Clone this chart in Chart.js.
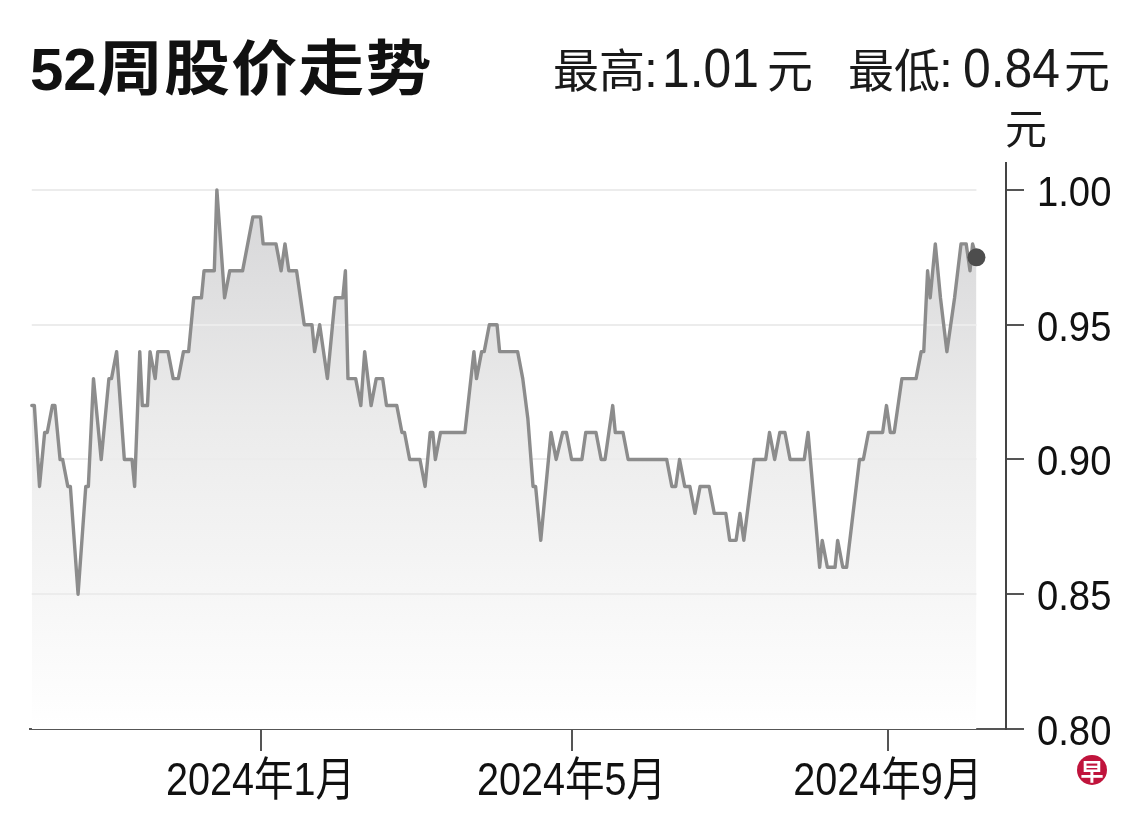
<!DOCTYPE html>
<html>
<head>
<meta charset="utf-8">
<script src="https://cdn.jsdelivr.net/npm/chart.js@4.4.1/dist/chart.umd.min.js"></script>
<style>
  html, body { margin: 0; padding: 0; background: #ffffff; }
  #wrap { position: relative; width: 1140px; height: 818px; overflow: hidden; background: #fff; }
  #chartBox { position: absolute; left: 0; top: 0; width: 1140px; height: 818px; }
  .title { position: absolute; left: 30px; top: 34px; line-height: 60px; white-space: nowrap;
           font-family: "Liberation Sans", "Noto Sans CJK SC", sans-serif; font-weight: bold; font-size: 60px; color: #111; }
  .title .cjk { font-family: "Noto Sans CJK SC", sans-serif; letter-spacing: 1px; display: inline-block;
                transform: scaleX(1.1); transform-origin: 0 50%; }
  #hdr { position: absolute; left: 0; top: 0; pointer-events: none; }
  #hdr .cjk { font-family: "Noto Sans CJK SC", sans-serif; font-size: 46px; fill: #1a1a1a; }
  #hdr .num { font-family: "Liberation Sans", sans-serif; font-size: 56px; fill: #1a1a1a; }
  #hdr .colon { font-family: "Liberation Sans", sans-serif; font-size: 50px; fill: #1a1a1a; }
  #hdr .unit { font-family: "Noto Sans CJK SC", sans-serif; font-size: 42px; fill: #1a1a1a; }
  .logo { position: absolute; left: 1077px; top: 755px; width: 30px; height: 30px; border-radius: 50%;
          background: #c0143c; color: #fff; font-family: "Noto Sans CJK SC", sans-serif; font-weight: bold;
          font-size: 23px; line-height: 30px; text-align: center; }
</style>
</head>
<body>
<div id="wrap">
  <div id="chartBox"><canvas id="c"></canvas></div>
  <div class="title">52<span class="cjk">周股价走势</span></div>
  <svg id="hdr" width="1140" height="818" xmlns="http://www.w3.org/2000/svg">
    <text class="cjk" x="553" y="87">最高</text>
    <text class="colon" x="651" y="87" text-anchor="middle">:</text>
    <text class="num" x="662" y="87" textLength="97" lengthAdjust="spacingAndGlyphs">1.01</text>
    <text class="cjk" x="767" y="87">元</text>
    <text class="cjk" x="848" y="87">最低</text>
    <text class="colon" x="946" y="87" text-anchor="middle">:</text>
    <text class="num" x="963" y="87" textLength="97" lengthAdjust="spacingAndGlyphs">0.84</text>
    <text class="cjk" x="1064" y="87">元</text>
    <text class="unit" x="1005" y="144">元</text>
  </svg>
  <div class="logo">早</div>
</div>
<script>
// Days counted from 2024-01-01 (negative = late 2023)
const dayOffsets = [
  -89, -88, -86, -84, -83, -81, -80, -78, -77, -75,
  -74, -71, -68, -67, -65, -62, -59, -58, -56, -53,
  -50, -49, -47, -46, -44, -43, -41, -40, -36, -34,
  -32, -30, -28, -26, -23, -22, -18, -17, -14, -12,
  -7, -3, 0, 1, 6, 8, 9.5, 11, 14, 17,
  20, 21, 23, 26, 29, 32, 33, 34, 37, 39,
  40.5, 43, 45, 47.5, 49, 53, 55, 56, 58, 62,
  64, 66, 67, 68, 70, 79.5, 83, 84, 86, 87,
  89, 92, 93, 100, 102, 104, 106, 107, 109, 113,
  115, 117.5, 119, 121, 125, 126.5, 130.5, 132.5, 134, 137,
  138, 141, 143, 158, 160, 161.5, 163, 165, 167, 169,
  171, 174.5, 176.5, 181, 182.5, 185, 186.5, 188, 192, 196.5,
  198, 200, 202, 204, 206, 211.5, 213, 217.5, 218.5, 220.5,
  223.5, 224.5, 226.5, 228, 233, 234.5, 236.5, 242, 243.5, 245,
  246.5, 249.5, 255, 257, 258, 259.5, 260.5, 262.5, 264.5, 267,
  270, 272.5, 274.5, 276, 277, 278.5
];
const prices = [
  0.92, 0.92, 0.89, 0.91, 0.91, 0.92, 0.92, 0.90, 0.90, 0.89,
  0.89, 0.85, 0.89, 0.89, 0.93, 0.90, 0.93, 0.93, 0.94, 0.90,
  0.90, 0.89, 0.94, 0.92, 0.92, 0.94, 0.93, 0.94, 0.94, 0.93,
  0.93, 0.94, 0.94, 0.96, 0.96, 0.97, 0.97, 1.00, 0.96, 0.97,
  0.97, 0.99, 0.99, 0.98, 0.98, 0.97, 0.98, 0.97, 0.97, 0.95,
  0.95, 0.94, 0.95, 0.93, 0.96, 0.96, 0.97, 0.93, 0.93, 0.92,
  0.94, 0.92, 0.93, 0.93, 0.92, 0.92, 0.91, 0.91, 0.90, 0.90,
  0.89, 0.91, 0.91, 0.90, 0.91, 0.91, 0.94, 0.93, 0.94, 0.94,
  0.95, 0.95, 0.94, 0.94, 0.93, 0.915, 0.89, 0.89, 0.87, 0.91,
  0.90, 0.91, 0.91, 0.90, 0.90, 0.91, 0.91, 0.90, 0.90, 0.92,
  0.91, 0.91, 0.90, 0.90, 0.89, 0.89, 0.90, 0.89, 0.89, 0.88,
  0.89, 0.89, 0.88, 0.88, 0.87, 0.87, 0.88, 0.87, 0.90, 0.90,
  0.91, 0.90, 0.91, 0.91, 0.90, 0.90, 0.91, 0.86, 0.87, 0.86,
  0.86, 0.87, 0.86, 0.86, 0.90, 0.90, 0.91, 0.91, 0.92, 0.91,
  0.91, 0.93, 0.93, 0.94, 0.94, 0.97, 0.96, 0.98, 0.96, 0.94,
  0.96, 0.98, 0.98, 0.97, 0.98, 0.975
];
// Month ticks (days from 2024-01-01) and their labels
const xTickDays = [0, 121, 244];
const xTickLabels = ['2024年1月', '2024年5月', '2024年9月'];
const yTickValues = [0.80, 0.85, 0.90, 0.95, 1.00];
const yTickLabels = ['0.80', '0.85', '0.90', '0.95', '1.00'];
const xRange = [-89.7, 290.0];
const yRange = [0.80, 1.01];

const points = dayOffsets.map((d, i) => ({ x: d, y: prices[i] }));

const labelFont = '"Liberation Sans", "Noto Sans CJK SC", sans-serif';

// light horizontal guide lines spanning only the data range, drawn over the fill but under the line
const gridPlugin = {
  id: 'rangeGrid',
  afterDatasetDraw(chart, args) {
    if (args.index !== 0) return;
    const xs = chart.scales.x, ys = chart.scales.y, ctx = chart.ctx;
    const x0 = xs.getPixelForValue(dayOffsets[0]);
    const x1 = xs.getPixelForValue(dayOffsets[dayOffsets.length - 1]);
    ctx.save();
    ctx.strokeStyle = '#ececec';
    ctx.lineWidth = 2;
    yTickValues.slice(1).forEach(v => {
      const y = Math.round(ys.getPixelForValue(v));
      ctx.beginPath(); ctx.moveTo(x0, y); ctx.lineTo(x1, y); ctx.stroke();
    });
    ctx.restore();
  }
};

// tick labels in a condensed setting (fillText maxWidth narrows the glyphs)
const labelPlugin = {
  id: 'condensedLabels',
  afterDraw(chart) {
    const ctx = chart.ctx, xs = chart.scales.x, ys = chart.scales.y, area = chart.chartArea;
    ctx.save();
    ctx.fillStyle = '#111';
    ctx.textBaseline = 'alphabetic';
    ctx.font = '46px ' + labelFont;
    ctx.textAlign = 'center';
    xTickDays.forEach((d, i) => {
      const w = ctx.measureText(xTickLabels[i]).width;
      ctx.fillText(xTickLabels[i], xs.getPixelForValue(d), area.bottom + 66, w * 0.86);
    });
    ctx.font = '42px ' + labelFont;
    ctx.textAlign = 'left';
    yTickValues.forEach((v, i) => {
      const w = ctx.measureText(yTickLabels[i]).width;
      ctx.fillText(yTickLabels[i], area.right + 31, ys.getPixelForValue(v) + 16, w * 0.91);
    });
    ctx.restore();
  }
};

new Chart(document.getElementById('c'), {
  type: 'line',
  data: {
    datasets: [
      {
        data: points,
        borderWidth: 0,
        pointRadius: 0,
        fill: 'start',
        order: 2,
        backgroundColor(ctx) {
          const area = ctx.chart.chartArea;
          if (!area) return '#e6e6e6';
          const g = ctx.chart.ctx.createLinearGradient(0, area.top, 0, area.bottom);
          g.addColorStop(0, '#d3d3d5');
          g.addColorStop(0.45, '#ebebeb');
          g.addColorStop(1, '#ffffff');
          return g;
        }
      },
      {
        data: points,
        borderColor: '#8c8c8c',
        borderWidth: 3.4,
        borderJoinStyle: 'round',
        borderCapStyle: 'round',
        fill: false,
        order: 1,
        tension: 0,
        pointRadius: (c) => c.dataIndex === prices.length - 1 ? 9 : 0,
        pointBackgroundColor: '#4d4d4d',
        pointBorderWidth: 0,
        pointHoverRadius: 0
      }
    ]
  },
  options: {
    responsive: true,
    maintainAspectRatio: false,
    animation: false,
    events: [],
    layout: { padding: { left: 30, top: 163, right: 0, bottom: 0 } },
    plugins: { legend: { display: false }, tooltip: { enabled: false } },
    scales: {
      x: {
        type: 'linear',
        min: xRange[0], max: xRange[1],
        afterBuildTicks(scale) { scale.ticks = xTickDays.map(v => ({ value: v })); },
        afterFit(scale) { scale.height = 89; },
        grid: { display: true, drawOnChartArea: false, drawTicks: true, tickLength: 22, color: '#555', lineWidth: 2 },
        border: { display: true, color: '#555', width: 2 },
        ticks: { display: false, autoSkip: false, maxRotation: 0 }
      },
      y: {
        position: 'right',
        min: yRange[0], max: yRange[1],
        afterBuildTicks(scale) { scale.ticks = yTickValues.map(v => ({ value: v })); },
        afterFit(scale) { scale.width = 134; },
        grid: { display: true, drawOnChartArea: false, drawTicks: true, tickLength: 18, color: '#555', lineWidth: 2 },
        border: { display: true, color: '#444', width: 2 },
        ticks: { display: false }
      }
    }
  },
  plugins: [gridPlugin, labelPlugin]
});
</script>
</body>
</html>
